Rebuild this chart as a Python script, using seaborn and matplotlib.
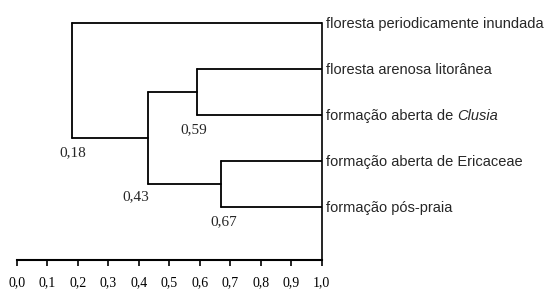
import pandas as pd
import seaborn as sns
import matplotlib.pyplot as plt

sns.set_style('white')
plt.rcParams['font.family'] = ['Liberation Serif', 'DejaVu Serif']

# folhas do dendrograma (de cima para baixo)
leaves = ['floresta periodicamente inundada',
          'floresta arenosa litorânea',
          'formação aberta de Clusia',
          'formação aberta de Ericaceae',
          'formação pós-praia']

# fusões: nome, grupo a, grupo b, similaridade
merge_name = ['A', 'B', 'C', 'D']
merge_a = ['floresta arenosa litorânea', 'formação aberta de Ericaceae', 'A', 'floresta periodicamente inundada']
merge_b = ['formação aberta de Clusia', 'formação pós-praia', 'B', 'C']
merge_sim = [0.59, 0.67, 0.43, 0.18]

tick_vals = [0.0, 0.1, 0.2, 0.3, 0.4, 0.5, 0.6, 0.7, 0.8, 0.9, 1.0]
tick_labels = ['0,0', '0,1', '0,2', '0,3', '0,4', '0,5', '0,6', '0,7', '0,8', '0,9', '1,0']

pos = {name: i for i, name in enumerate(leaves)}
xpos = {name: 1.0 for name in leaves}
rows = []
for n, a, b, h in zip(merge_name, merge_a, merge_b, merge_sim):
    pos[n] = (pos[a] + pos[b]) / 2
    rows += [(f'{n}v', h, pos[a]), (f'{n}v', h, pos[b]),
             (f'{n}a', h, pos[a]), (f'{n}a', xpos[a], pos[a]),
             (f'{n}b', h, pos[b]), (f'{n}b', xpos[b], pos[b])]
    xpos[n] = h
df = pd.DataFrame(rows, columns=['seg', 'x', 'y'])

fig = plt.figure(figsize=(5.47, 2.89), dpi=100)
ax = fig.add_axes([16.7 / 547, 29 / 289, 305 / 547, 260 / 289])
sns.lineplot(data=df, x='x', y='y', units='seg', estimator=None, sort=False,
             color='black', lw=1.3, ax=ax)

ax.set_xlim(0, 1)
ax.set_ylim(5.152, -0.5)
ax.set_xlabel('')
ax.set_ylabel('')
ax.set_yticks([])
ax.set_xticks(tick_vals)
ax.set_xticklabels(tick_labels, fontsize=10)
ax.tick_params(axis='x', direction='out', length=4, width=1.2, pad=7.5,
               bottom=True, colors='black')
for s in ['top', 'left']:
    ax.spines[s].set_visible(False)
ax.spines['bottom'].set_linewidth(1.5)
ax.spines['right'].set_linewidth(1.2)
ax.spines['right'].set_bounds(0, 5.152)
for s in ['bottom', 'right']:
    ax.spines[s].set_color('black')

# rótulos das folhas
sans = ['Liberation Sans', 'DejaVu Sans']
for name in leaves:
    if name.endswith('Clusia'):
        t = ax.annotate('formação aberta de ', (1.0, pos[name]), xytext=(4, -1),
                        textcoords='offset pixels', va='center', ha='left',
                        fontsize=10.5, family=sans, annotation_clip=False)
        ax.annotate('Clusia', xy=(1, 0), xycoords=t, va='bottom', ha='left',
                    fontsize=10.5, family=sans, style='italic')
    else:
        ax.annotate(name, (1.0, pos[name]), xytext=(4, -1), textcoords='offset pixels',
                    va='center', ha='left', fontsize=10.5, family=sans,
                    annotation_clip=False)

# valores de similaridade nas fusões
label_dx = {'A': -3, 'B': 3, 'C': -12, 'D': 1}
for n, a, b, h in zip(merge_name, merge_a, merge_b, merge_sim):
    ybot = max(pos[a], pos[b])
    ax.annotate(f'{h:.2f}'.replace('.', ','), (h, ybot),
                xytext=(label_dx[n], -15 if n != 'C' else -13),
                textcoords='offset pixels', ha='center', va='center', fontsize=11)

plt.savefig('out.png', dpi=100)
